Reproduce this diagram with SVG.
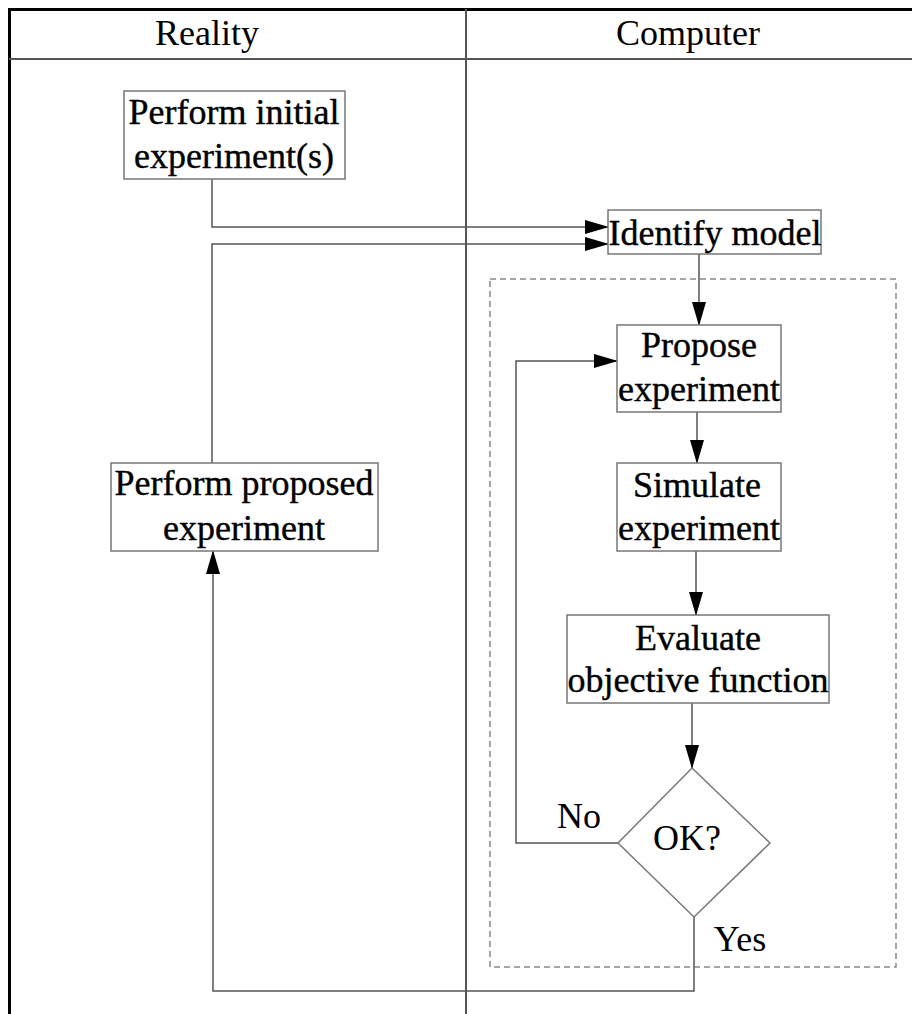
<svg xmlns="http://www.w3.org/2000/svg" width="912" height="1014" viewBox="0 0 912 1014">
<style>
text{font-family:"Liberation Serif","Times New Roman",serif;font-size:36px;fill:#000;text-anchor:middle}
.n text{stroke:#000;stroke-width:0.4}
.box{fill:#fff;stroke:#777;stroke-width:1.5}
.conn{fill:none;stroke:#555;stroke-width:1.5}
.frame{fill:none;stroke:#000;stroke-width:3}
.grid{fill:none;stroke:#555;stroke-width:2}
.dash{fill:none;stroke:#888;stroke-width:1.5;stroke-dasharray:6 4}
</style>
<defs>
<marker id="arr" markerUnits="userSpaceOnUse" markerWidth="24" markerHeight="14" viewBox="0 0 24 14" refX="23" refY="7" orient="auto">
<path d="M0,0 L24,7 L0,14 Z" fill="#000"/>
</marker>
</defs>
<rect width="912" height="1014" fill="#fff"/>
<g id="frame">
<path class="frame" d="M9.5,1014 V9.5 H912"/>
<line class="grid" x1="9" y1="59" x2="912" y2="59"/>
<line class="grid" x1="466" y1="9" x2="466" y2="1014"/>
<text x="207" y="45">Reality</text>
<text x="688" y="45">Computer</text>
</g>
<rect class="dash" x="490" y="279" width="406" height="688"/>
<g id="connectors">
<path class="conn" d="M212,179 V227 H608" marker-end="url(#arr)"/>
<path class="conn" d="M212,463 V244 H608" marker-end="url(#arr)"/>
<path class="conn" d="M699,254 V325" marker-end="url(#arr)"/>
<path class="conn" d="M697,412 V463" marker-end="url(#arr)"/>
<path class="conn" d="M696,551 V615" marker-end="url(#arr)"/>
<path class="conn" d="M692,703 V768" marker-end="url(#arr)"/>
<path class="conn" d="M618,843 H516 V361 H617" marker-end="url(#arr)"/>
<path class="conn" d="M694,917 V991 H213 V551" marker-end="url(#arr)"/>
<text x="579" y="828">No</text>
<text x="740" y="951">Yes</text>
</g>
<g id="perform-initial" class="n">
<rect class="box" x="124" y="91" width="221" height="88"/>
<text x="234" y="124">Perform initial</text>
<text x="234" y="168">experiment(s)</text>
</g>
<g id="identify-model" class="n">
<rect class="box" x="608" y="210" width="213" height="44"/>
<text x="715" y="245">Identify model</text>
</g>
<g id="propose" class="n">
<rect class="box" x="617" y="325" width="164" height="87"/>
<text x="699" y="357">Propose</text>
<text x="699" y="401">experiment</text>
</g>
<g id="simulate" class="n">
<rect class="box" x="617" y="463" width="164" height="88"/>
<text x="697" y="497">Simulate</text>
<text x="699" y="540">experiment</text>
</g>
<g id="evaluate" class="n">
<rect class="box" x="567" y="615" width="262" height="88"/>
<text x="698" y="650">Evaluate</text>
<text x="698" y="692">objective function</text>
</g>
<g id="ok">
<polygon class="box" points="692,768 770,843 694,917 618,843"/>
<text x="687" y="850">OK?</text>
</g>
<g id="perform-proposed" class="n">
<rect class="box" x="111" y="463" width="267" height="88"/>
<text x="244" y="495">Perform proposed</text>
<text x="244" y="540">experiment</text>
</g>
</svg>
